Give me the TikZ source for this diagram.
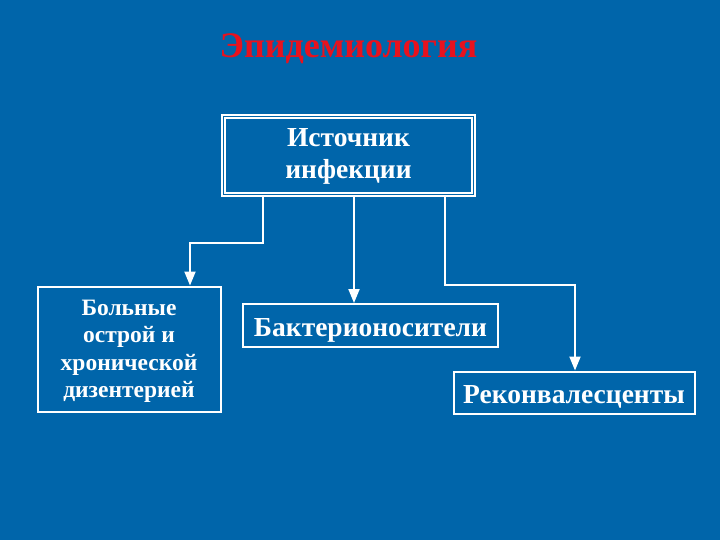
\documentclass[tikz,border=0pt]{standalone}
\usepackage{fontspec}
\setmainfont{Liberation Serif}
\usetikzlibrary{arrows.meta}
\definecolor{bg}{RGB}{0,101,170}
\definecolor{titlered}{RGB}{232,18,30}
\newcommand{\boxtext}[2]{\raisebox{-#1}[\height][\depth]{\begin{tabular}{@{}c@{}}#2\end{tabular}}}
\tikzset{
  box/.style={draw=white, line width=2pt, fill=bg, text=white, font=\bfseries, inner sep=0pt},
  conn/.style={draw=white, line width=2pt, -{Triangle[length=14pt,width=11pt]}},
}
\begin{document}
\begin{tikzpicture}[x=1pt,y=-1pt]
\fill[bg] (0,0) rectangle (720,540);
\useasboundingbox (0,0) rectangle (720,540);
\node[text=titlered, font=\fontsize{36}{40}\selectfont\bfseries, anchor=base] (title) at (348.5,58) {Эпидемиология};
% source box with double border
\node[box, double=bg, line width=1.6pt, double distance=1.6pt, minimum width=250pt, minimum height=78pt,
      font=\fontsize{27.5}{32}\selectfont\bfseries] (src) at (348.5,155.5) {\boxtext{1.1pt}{Источник\\инфекции}};
\node[box, minimum width=183pt, minimum height=125pt, font=\fontsize{23.5}{27.5}\selectfont\bfseries] (sick) at (129,349) {\boxtext{1.75pt}{Больные\\острой и\\хронической\\дизентерией}};
\node[box, minimum width=255pt, minimum height=43pt, font=\fontsize{27.5}{28}\selectfont\bfseries] (bact) at (370.5,325.5) {\boxtext{5.6pt}{Бактерионосители}};
\node[box, minimum width=241pt, minimum height=42pt, font=\fontsize{27.5}{28}\selectfont\bfseries] (reco) at (574,392.5) {\boxtext{5.6pt}{Реконвалесценты}};
\coordinate (a1) at (263,243);
\coordinate (a2) at (190,243);
\coordinate (m1) at (354,240);
\coordinate (c1) at (445,285);
\coordinate (c2) at (575,285);
\draw[conn] (src.south -| a1) -- (a1) -- (a2) -- (sick.north -| a2);
\draw[conn] (src.south -| m1) -- (bact.north -| m1);
\draw[conn] (src.south -| c1) -- (c1) -- (c2) -- (reco.north -| c2);
\end{tikzpicture}
\end{document}
